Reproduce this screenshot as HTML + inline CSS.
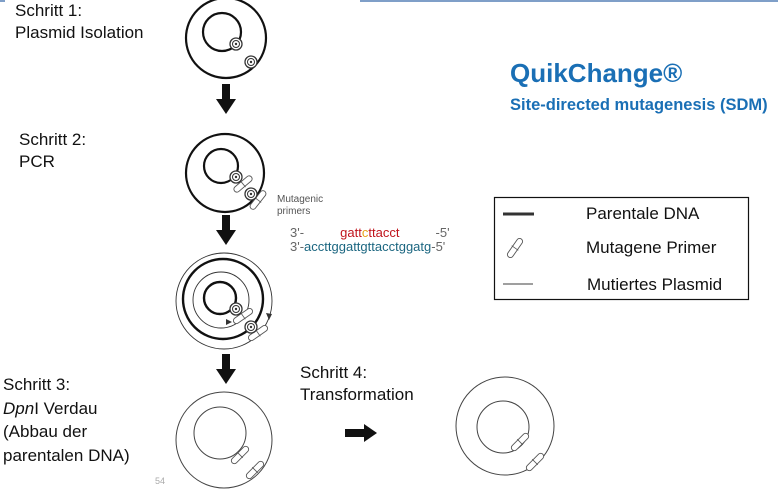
<!DOCTYPE html>
<html><head><meta charset="utf-8"><style>
body{margin:0;width:778px;height:496px;overflow:hidden;background:#fff;font-family:"Liberation Sans",sans-serif;position:relative}
.t{position:absolute;font-size:17px;color:#111;line-height:22px}
</style></head><body>
<svg width="778" height="496" style="position:absolute;left:0;top:0">
<defs>
<g id="knot"><circle r="6" fill="#fff" stroke="#333" stroke-width="1.3"/><circle r="3.5" fill="none" stroke="#333" stroke-width="1"/><circle r="1.2" fill="#333"/></g>
<g id="pr"><rect x="-11" y="-3" width="22" height="6" rx="3" fill="#fff" stroke="#555" stroke-width="0.9"/><line x1="0" y1="-4" x2="0" y2="4" stroke="#555" stroke-width="0.8"/></g>
</defs>
<line x1="360" y1="1" x2="778" y2="1" stroke="#7f9fc8" stroke-width="2"/>
<line x1="0" y1="1" x2="5" y2="1" stroke="#7f9fc8" stroke-width="2"/>
<circle cx="226" cy="38" r="40" fill="none" stroke="#111" stroke-width="2.2"/>
<circle cx="222" cy="32" r="19" fill="none" stroke="#111" stroke-width="2.2"/>
<use href="#knot" x="236" y="44"/><use href="#knot" x="251" y="62"/>
<g fill="#111"><rect x="222" y="84" width="8" height="16"/><polygon points="216,99 236,99 226,114"/></g>
<circle cx="225" cy="173" r="39" fill="none" stroke="#111" stroke-width="2.2"/>
<circle cx="221" cy="166" r="17" fill="none" stroke="#111" stroke-width="2.2"/>
<use href="#pr" transform="translate(243,184) rotate(-40)"/>
<use href="#pr" transform="translate(258,200) rotate(-52)"/>
<use href="#knot" x="236" y="177"/><use href="#knot" x="251" y="194"/>
<g fill="#111"><rect x="222" y="215" width="8" height="16"/><polygon points="216,230 236,230 226,245"/></g>
<circle cx="224" cy="301" r="48" fill="none" stroke="#333" stroke-width="0.9"/>
<circle cx="223" cy="299" r="40" fill="none" stroke="#111" stroke-width="2.4"/>
<circle cx="221" cy="300" r="28" fill="none" stroke="#333" stroke-width="0.9"/>
<circle cx="220" cy="298" r="16" fill="none" stroke="#111" stroke-width="2.4"/>
<polygon points="232,322 226,319 226,325" fill="#333"/>
<polygon points="269,320 266,313 272,314" fill="#333"/>
<use href="#pr" transform="translate(243,316) rotate(-35)"/>
<use href="#pr" transform="translate(258,333) rotate(-35)"/>
<use href="#knot" x="236" y="309"/><use href="#knot" x="251" y="327"/>
<g fill="#111"><rect x="222" y="354" width="8" height="16"/><polygon points="216,369 236,369 226,384"/></g>
<circle cx="224" cy="440" r="48" fill="none" stroke="#444" stroke-width="1"/>
<circle cx="220" cy="433" r="26" fill="none" stroke="#444" stroke-width="1"/>
<use href="#pr" transform="translate(240,455) rotate(-45)"/>
<use href="#pr" transform="translate(255,470) rotate(-45)"/>
<g fill="#111"><rect x="345" y="429" width="20" height="8"/><polygon points="364,424 377,433 364,442"/></g>
<circle cx="505" cy="426" r="49" fill="none" stroke="#444" stroke-width="1"/>
<circle cx="503" cy="427" r="26" fill="none" stroke="#444" stroke-width="1"/>
<line x1="455" y1="412" x2="455" y2="416" stroke="#fff" stroke-width="3"/>
<use href="#pr" transform="translate(520,442) rotate(-45)"/>
<use href="#pr" transform="translate(535,462) rotate(-45)"/>
<rect x="494.5" y="197.5" width="254" height="102" fill="none" stroke="#111" stroke-width="1.2"/>
<line x1="503" y1="214" x2="534" y2="214" stroke="#333" stroke-width="3"/>
<use href="#pr" transform="translate(515,248) rotate(-55)"/>
<line x1="503" y1="284" x2="533" y2="284" stroke="#666" stroke-width="1.2"/>
</svg>
<div class="t" style="left:15px;top:0px">Schritt 1:<br>Plasmid Isolation</div>
<div class="t" style="left:19px;top:129px">Schritt 2:<br>PCR</div>
<div class="t" style="left:3px;top:373px;line-height:23.7px">Schritt 3:<br><i>Dpn</i>I Verdau<br>(Abbau der<br>parentalen DNA)</div>
<div class="t" style="left:300px;top:362px">Schritt 4:<br>Transformation</div>
<div style="position:absolute;left:155px;top:476px;font-size:9px;color:#aaa">54</div>
<div style="position:absolute;left:277px;top:194px;font-size:10px;color:#555;line-height:12px">Mutagenic<br>primers</div>
<div style="position:absolute;left:290px;top:226px;font-size:13px;color:#666;line-height:14px;white-space:pre">3'-          <span style="color:#c0141c">gatt<span style="color:#e8a317">c</span>ttacct</span>          -5'<br>3'-<span style="color:#1b6680">accttggattgttacctggatg</span>-5'</div>
<div style="position:absolute;left:510px;top:58px;font-size:26px;font-weight:bold;color:#1a6fb5">QuikChange®</div>
<div style="position:absolute;left:510px;top:96px;font-size:16.5px;font-weight:bold;color:#1a6fb5">Site-directed mutagenesis (SDM)</div>
<div class="t" style="left:586px;top:203px">Parentale DNA</div>
<div class="t" style="left:586px;top:237px">Mutagene Primer</div>
<div class="t" style="left:587px;top:274px">Mutiertes Plasmid</div>
</body></html>
